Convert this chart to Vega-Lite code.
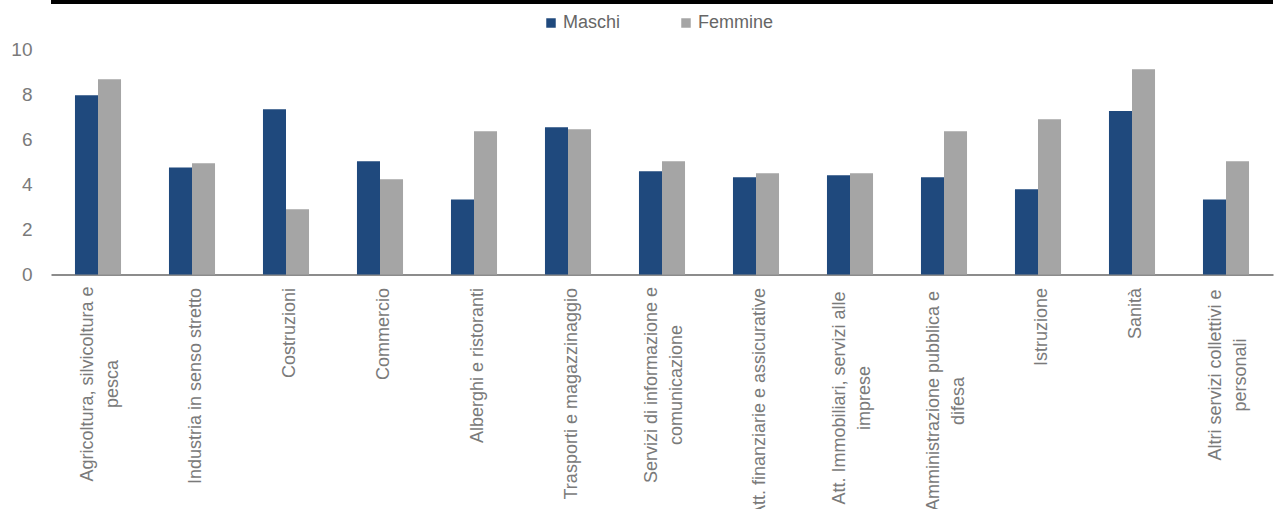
{
  "$schema": "https://vega.github.io/schema/vega-lite/v6.json",
  "width": 1222,
  "height": 225.5,
  "autosize": "none",
  "padding": {"left": 51, "top": 49, "right": 12, "bottom": 234.5},
  "background": "white",
  "config": {
    "font": "Liberation Sans, Arial, sans-serif",
    "view": {"stroke": null}
  },
  "data": {
    "values": [
      {"settore": "Agricoltura, silvicoltura e\npesca", "sesso": "Maschi", "valore": 7.95},
      {"settore": "Agricoltura, silvicoltura e\npesca", "sesso": "Femmine", "valore": 8.66},
      {"settore": "Industria in senso stretto", "sesso": "Maschi", "valore": 4.75},
      {"settore": "Industria in senso stretto", "sesso": "Femmine", "valore": 4.93},
      {"settore": "Costruzioni", "sesso": "Maschi", "valore": 7.33},
      {"settore": "Costruzioni", "sesso": "Femmine", "valore": 2.89},
      {"settore": "Commercio", "sesso": "Maschi", "valore": 5.02},
      {"settore": "Commercio", "sesso": "Femmine", "valore": 4.22},
      {"settore": "Alberghi e ristoranti", "sesso": "Maschi", "valore": 3.33},
      {"settore": "Alberghi e ristoranti", "sesso": "Femmine", "valore": 6.35},
      {"settore": "Trasporti e magazzinaggio", "sesso": "Maschi", "valore": 6.53},
      {"settore": "Trasporti e magazzinaggio", "sesso": "Femmine", "valore": 6.44},
      {"settore": "Servizi di informazione e\ncomunicazione", "sesso": "Maschi", "valore": 4.58},
      {"settore": "Servizi di informazione e\ncomunicazione", "sesso": "Femmine", "valore": 5.02},
      {"settore": "Att. finanziarie e assicurative", "sesso": "Maschi", "valore": 4.31},
      {"settore": "Att. finanziarie e assicurative", "sesso": "Femmine", "valore": 4.49},
      {"settore": "Att. Immobiliari, servizi alle\nimprese", "sesso": "Maschi", "valore": 4.4},
      {"settore": "Att. Immobiliari, servizi alle\nimprese", "sesso": "Femmine", "valore": 4.49},
      {"settore": "Amministrazione pubblica e\ndifesa", "sesso": "Maschi", "valore": 4.31},
      {"settore": "Amministrazione pubblica e\ndifesa", "sesso": "Femmine", "valore": 6.35},
      {"settore": "Istruzione", "sesso": "Maschi", "valore": 3.78},
      {"settore": "Istruzione", "sesso": "Femmine", "valore": 6.88},
      {"settore": "Sanità", "sesso": "Maschi", "valore": 7.25},
      {"settore": "Sanità", "sesso": "Femmine", "valore": 9.1},
      {"settore": "Altri servizi collettivi e\npersonali", "sesso": "Maschi", "valore": 3.33},
      {"settore": "Altri servizi collettivi e\npersonali", "sesso": "Femmine", "valore": 5.02}
    ]
  },
  "layer": [
    {
      "mark": {"type": "bar"},
      "encoding": {
        "x": {
          "field": "settore",
          "type": "nominal",
          "sort": null,
          "scale": {"paddingInner": 0.51, "paddingOuter": 0.255},
          "axis": {
            "title": null,
            "labelAngle": -90,
            "labelExpr": "split(datum.label, '\\n')",
            "labelFontSize": 18,
            "labelColor": "#7a7a7a",
            "labelLineHeight": 25,
            "labelLimit": 500,
            "labelPadding": {
              "condition": [
                {"test": "indexof(datum.value, 'Agricoltura') === 0", "value": 109},
                {"test": "indexof(datum.value, 'Servizi') === 0", "value": 110},
                {"test": "indexof(datum.value, 'Att. Immobiliari') === 0", "value": 123},
                {"test": "indexof(datum.value, 'Amministrazione') === 0", "value": 126},
                {"test": "indexof(datum.value, 'Altri') === 0", "value": 100}
              ],
              "value": 13
            },
            "labelAlign": {
              "condition": {"test": "indexof(datum.value, '\\n') >= 0", "value": "center"},
              "value": "right"
            },
            "labelOffset": {
              "condition": {"test": "indexof(datum.value, '\\n') >= 0", "value": -10},
              "value": 4
            },
            "ticks": false,
            "domainColor": "#8c8c8c",
            "domainWidth": 2
          }
        },
        "xOffset": {
          "field": "sesso",
          "sort": ["Maschi", "Femmine"],
          "scale": {"paddingInner": 0, "paddingOuter": 0}
        },
        "y": {
          "field": "valore",
          "type": "quantitative",
          "scale": {"domain": [0, 10], "nice": false},
          "axis": {
            "title": null,
            "values": [0, 2, 4, 6, 8, 10],
            "domain": false,
            "ticks": false,
            "grid": false,
            "labelFontSize": 19,
            "labelColor": "#7a7a7a",
            "labelPadding": 19
          }
        },
        "color": {
          "field": "sesso",
          "type": "nominal",
          "sort": ["Maschi", "Femmine"],
          "scale": {"domain": ["Maschi", "Femmine"], "range": ["#1F497D", "#A5A5A5"]},
          "legend": {
            "title": null,
            "orient": "none",
            "legendX": 491,
            "legendY": -35,
            "direction": "horizontal",
            "symbolType": "square",
            "symbolSize": 90,
            "symbolStrokeWidth": 0,
            "labelFontSize": 18,
            "labelColor": "#666666",
            "labelOffset": 3,
            "columnPadding": 56
          }
        }
      }
    },
    {
      "mark": {"type": "rule", "color": "black", "strokeWidth": 3},
      "encoding": {"y": {"datum": 12.1, "type": "quantitative"}}
    }
  ]
}
